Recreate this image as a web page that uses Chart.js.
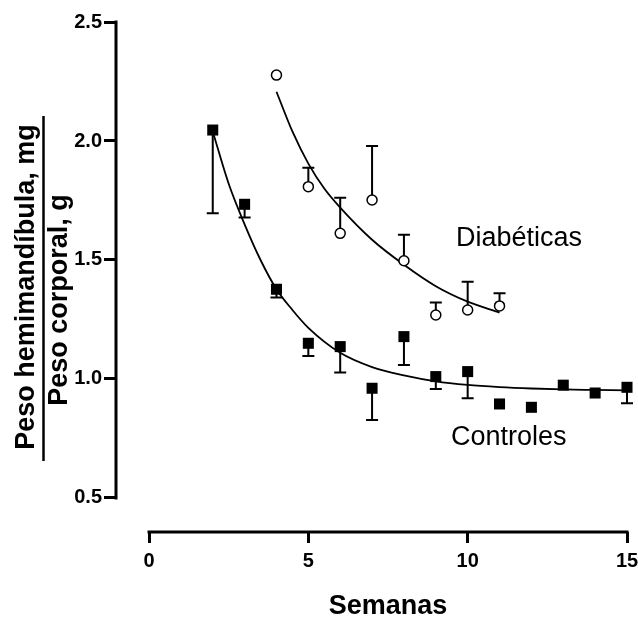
<!DOCTYPE html>
<html><head><meta charset="utf-8">
<script src="https://cdn.jsdelivr.net/npm/chart.js@4/dist/chart.umd.min.js"></script>
<style>html,body{margin:0;padding:0;background:#fff}#wrap{width:638px;height:619px;position:relative}</style>
</head><body><div id="wrap"><canvas id="c" width="638" height="619"></canvas></div>
<script>
// ---- data ----
const weeksCtrl = [2, 3, 4, 5, 6, 7, 8, 9, 10, 11, 12, 13, 14, 15];
const ctrlMean  = [2.046, 1.734, 1.377, 1.150, 1.136, 0.961, 1.178, 1.010, 1.031, 0.895, 0.881, 0.974, 0.941, 0.965];
const ctrlLow   = [1.696, 1.678, 1.342, 1.097, 1.027, 0.828, 1.059, 0.958, 0.919, null, null, null, null, 0.898];

const weeksDiab = [4, 5, 6, 7, 8, 9, 10, 11];
const diabMean  = [2.277, 1.808, 1.612, 1.752, 1.497, 1.269, 1.290, 1.307];
const diabHigh  = [null, 1.888, 1.762, 1.979, 1.606, 1.321, 1.409, 1.360];

// fitted curves
const ctrlFitX = [2, 2.5, 3, 3.5, 4, 4.5, 5, 6, 7, 8, 9, 10, 11, 12, 13, 14, 15];
const ctrlFitY = [2.04, 1.82, 1.65, 1.50, 1.377, 1.29, 1.215, 1.11, 1.05, 1.015, 0.99, 0.975, 0.966, 0.96, 0.956, 0.954, 0.952];
const diabFitX = [4, 4.5, 5, 5.5, 6, 7, 8, 9, 10, 11];
const diabFitY = [2.207, 2.04, 1.905, 1.80, 1.72, 1.585, 1.48, 1.39, 1.325, 1.279];

const xTicks = [0, 5, 10, 15];
const yTicks = [0.5, 1.0, 1.5, 2.0, 2.5];

const xTitle = 'Semanas';
const yTitleTop = 'Peso hemimandíbula, mg';
const yTitleBottom = 'Peso corporal, g';
const labelDiab = 'Diabéticas';
const labelCtrl = 'Controles';

const FONT = '"Liberation Sans", Arial, Helvetica, sans-serif';

const pts = (xs, ys) => xs.map((v, i) => ({x: v, y: ys[i]}));

const deco = {
  id: 'deco',
  beforeDatasetsDraw(chart) {
    const {ctx, chartArea, scales: {x, y}} = chart;
    ctx.save();
    ctx.strokeStyle = '#000';
    ctx.lineCap = 'butt';
    // axis lines (offset style)
    ctx.lineWidth = 3;
    ctx.beginPath();
    ctx.moveTo(chartArea.left, y.getPixelForValue(yTicks[yTicks.length - 1]) - 1.5);
    ctx.lineTo(chartArea.left, y.getPixelForValue(yTicks[0]) + 1.5);
    ctx.moveTo(x.getPixelForValue(xTicks[0]) - 1.5, chartArea.bottom);
    ctx.lineTo(x.getPixelForValue(xTicks[xTicks.length - 1]) + 1.5, chartArea.bottom);
    ctx.stroke();
    // error bars
    ctx.lineWidth = 2;
    const cap = 6;
    const bar = (xv, y0, y1) => {
      if (y1 == null) return;
      const px = x.getPixelForValue(xv);
      const p0 = y.getPixelForValue(y0);
      const p1 = y.getPixelForValue(y1);
      ctx.beginPath();
      ctx.moveTo(px, p0); ctx.lineTo(px, p1);
      ctx.moveTo(px - cap, p1); ctx.lineTo(px + cap, p1);
      ctx.stroke();
    };
    weeksCtrl.forEach((w, i) => bar(w, ctrlMean[i], ctrlLow[i]));
    weeksDiab.forEach((w, i) => bar(w, diabMean[i], diabHigh[i]));
    ctx.restore();
  },
  afterDraw(chart) {
    const {ctx, scales: {x}} = chart;
    ctx.save();
    ctx.fillStyle = '#000';
    // x title
    ctx.font = 'bold 27px ' + FONT;
    ctx.textAlign = 'center';
    ctx.textBaseline = 'alphabetic';
    ctx.fillText(xTitle, x.getPixelForValue((xTicks[0] + xTicks[xTicks.length - 1]) / 2), 614);
    // y title as a fraction
    ctx.save();
    ctx.translate(34, 287);
    ctx.rotate(-Math.PI / 2);
    ctx.fillText(yTitleTop, 0, 0);
    ctx.restore();
    ctx.save();
    ctx.translate(67, 300);
    ctx.rotate(-Math.PI / 2);
    ctx.fillText(yTitleBottom, 0, 0);
    ctx.restore();
    ctx.strokeStyle = '#000';
    ctx.lineWidth = 2.5;
    ctx.beginPath();
    ctx.moveTo(43.5, 116);
    ctx.lineTo(43.5, 461);
    ctx.stroke();
    // series labels
    ctx.font = '27px ' + FONT;
    ctx.textAlign = 'left';
    ctx.fillText(labelDiab, 456, 246);
    ctx.fillText(labelCtrl, 451, 444.5);
    ctx.restore();
  }
};

new Chart(document.getElementById('c'), {
  type: 'scatter',
  data: {
    datasets: [
      {
        label: labelCtrl,
        data: pts(weeksCtrl, ctrlMean),
        pointStyle: 'rect',
        pointRadius: 7.8,
        pointBackgroundColor: '#000',
        pointBorderColor: '#000',
        pointBorderWidth: 0,
        showLine: false,
        clip: false
      },
      {
        label: labelDiab,
        data: pts(weeksDiab, diabMean),
        pointStyle: 'circle',
        pointRadius: 5,
        pointBackgroundColor: '#fff',
        pointBorderColor: '#000',
        pointBorderWidth: 1.5,
        showLine: false,
        clip: false
      },
      {
        label: 'ajuste controles',
        data: pts(ctrlFitX, ctrlFitY),
        showLine: true,
        pointRadius: 0,
        borderColor: '#000',
        borderWidth: 1.8,
        cubicInterpolationMode: 'monotone',
        fill: false,
        clip: false
      },
      {
        label: 'ajuste diabéticas',
        data: pts(diabFitX, diabFitY),
        showLine: true,
        pointRadius: 0,
        borderColor: '#000',
        borderWidth: 1.8,
        cubicInterpolationMode: 'monotone',
        fill: false,
        clip: false
      }
    ]
  },
  options: {
    responsive: false,
    animation: false,
    devicePixelRatio: 1,
    layout: {padding: {top: 22, right: 11, left: 0, bottom: 0}},
    plugins: {legend: {display: false}, tooltip: {enabled: false}, title: {display: false}},
    scales: {
      x: {
        type: 'linear',
        min: -1.036,
        max: 15,
        afterBuildTicks: s => { s.ticks = xTicks.map(v => ({value: v})); },
        afterFit: s => { s.height = 87; s.paddingLeft = 0; s.paddingRight = 0; },
        border: {display: false},
        grid: {display: true, drawOnChartArea: false, drawTicks: true, tickLength: 11, lineWidth: 3, color: '#000'},
        ticks: {color: '#000', font: {family: FONT, size: 20, weight: 'bold'}, padding: 6, maxRotation: 0, autoSkip: false}
      },
      y: {
        type: 'linear',
        min: 0.357,
        max: 2.5,
        afterBuildTicks: s => { s.ticks = yTicks.map(v => ({value: v})); },
        afterFit: s => { s.width = 116; s.paddingTop = 0; s.paddingBottom = 0; },
        border: {display: false},
        grid: {display: true, drawOnChartArea: false, drawTicks: true, tickLength: 12, lineWidth: 3, color: '#000'},
        ticks: {color: '#000', font: {family: FONT, size: 20, weight: 'bold'}, padding: 2, callback: v => Number(v).toFixed(1)}
      }
    }
  },
  plugins: [deco]
});
</script>
</body></html>
